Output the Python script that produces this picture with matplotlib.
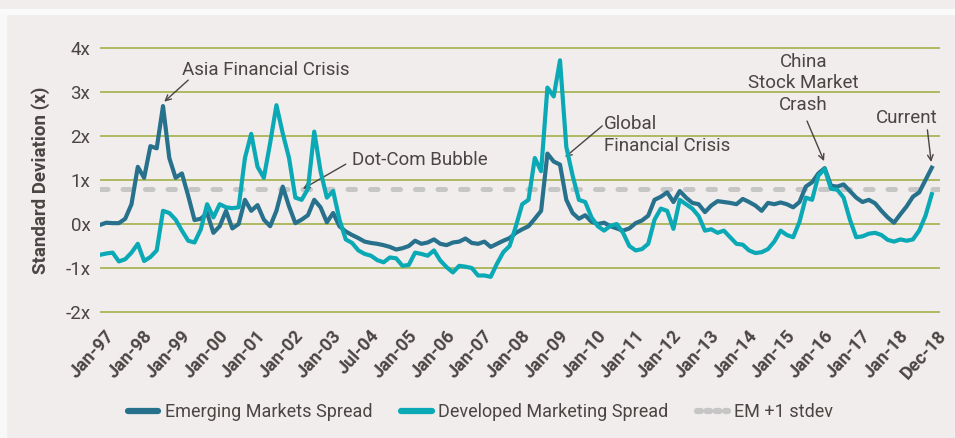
import numpy as np
import matplotlib.pyplot as plt
from matplotlib.lines import Line2D
from matplotlib.transforms import ScaledTranslation

plt.rcParams['font.family'] = ['Roboto', 'DejaVu Sans']

# spreads in standard deviations, one value every 2 months, Jan-97 .. Dec-18
em_spread = [
    -0.02, 0.03, 0.02, 0.02, 0.12, 0.45, 1.3, 1.05, 1.77, 1.72,
    2.68, 1.5, 1.05, 1.15, 0.64, 0.09, 0.12, 0.25, -0.2, -0.05,
    0.3, -0.1, 0.0, 0.55, 0.3, 0.43, 0.1, -0.05, 0.3, 0.85,
    0.4, 0.02, 0.1, 0.2, 0.55, 0.38, 0.04, 0.25, -0.05, -0.17,
    -0.25, -0.32, -0.4, -0.43, -0.45, -0.48, -0.52, -0.58, -0.55, -0.5,
    -0.38, -0.45, -0.42, -0.35, -0.45, -0.48, -0.42, -0.4, -0.33, -0.43,
    -0.45, -0.4, -0.52, -0.45, -0.38, -0.32, -0.2, -0.12, -0.05, 0.12,
    0.3, 1.6, 1.42, 1.35, 0.55, 0.25, 0.12, 0.2, 0.05, 0.0,
    0.03, -0.05, -0.1, -0.15, -0.1, 0.02, 0.08, 0.19, 0.55, 0.62,
    0.72, 0.5, 0.75, 0.6, 0.48, 0.45, 0.27, 0.42, 0.52, 0.5,
    0.48, 0.45, 0.57, 0.5, 0.42, 0.3, 0.48, 0.45, 0.49, 0.45,
    0.38, 0.5, 0.85, 0.95, 1.15, 1.27, 0.87, 0.85, 0.9, 0.75,
    0.6, 0.5, 0.55, 0.47, 0.3, 0.15, 0.03, 0.22, 0.4, 0.62,
    0.72, 1.0, 1.28,
]
dm_spread = [
    -0.7, -0.67, -0.65, -0.85, -0.8, -0.65, -0.45, -0.84, -0.75, -0.6,
    0.3, 0.25, 0.1, -0.15, -0.38, -0.42, -0.12, 0.45, 0.15, 0.45,
    0.38, 0.36, 0.38, 1.5, 2.05, 1.3, 1.05, 1.84, 2.7, 2.06,
    1.5, 0.6, 0.55, 0.8, 2.1, 1.2, 0.6, 0.75, 0.1, -0.35,
    -0.43, -0.6, -0.68, -0.72, -0.82, -0.87, -0.76, -0.78, -0.95, -0.93,
    -0.65, -0.68, -0.72, -0.6, -0.83, -0.98, -1.1, -0.95, -0.97, -1.0,
    -1.17, -1.17, -1.2, -0.9, -0.64, -0.5, -0.05, 0.45, 0.55, 1.5,
    1.2, 3.1, 2.9, 3.72, 1.75, 1.1, 0.55, 0.5, 0.15, -0.05,
    -0.15, -0.04, 0.0, -0.2, -0.5, -0.6, -0.57, -0.45, 0.1, 0.35,
    0.3, -0.11, 0.55, 0.45, 0.35, 0.18, -0.15, -0.12, -0.2, -0.15,
    -0.3, -0.45, -0.47, -0.6, -0.66, -0.64, -0.57, -0.4, -0.15, -0.25,
    -0.3, 0.05, 0.6, 0.55, 1.1, 1.25, 0.8, 0.78, 0.6, 0.1,
    -0.3, -0.28, -0.22, -0.2, -0.25, -0.36, -0.4, -0.35, -0.38, -0.35,
    -0.15, 0.19, 0.68,
]
em_plus_1sd = 0.8

x_labels = ['Jan-97', 'Jan-98', 'Jan-99', 'Jan-00', 'Jan-01', 'Jan-02', 'Jan-03',
            'Jul-04', 'Jan-05', 'Jan-06', 'Jan-07', 'Jan-08', 'Jan-09', 'Jan-10',
            'Jan-11', 'Jan-12', 'Jan-13', 'Jan-14', 'Jan-15', 'Jan-16', 'Jan-17',
            'Jan-18', 'Dec-18']
y_values = [-2, -1, 0, 1, 2, 3, 4]
y_labels = ['-2x', '-1x', '0x', '1x', '2x', '3x', '4x']

TEXT = '#4b4544'
EM_COL = '#27718d'
DM_COL = '#0aa9b5'
SD_COL = '#c6c6c6'
GRID = '#a3b04a'
BG = '#f0edec'

fig = plt.figure(figsize=(9.55, 4.38), dpi=100, facecolor=BG)
fig.patches.append(plt.Rectangle((0, 1 - 14 / 438), 1, 5 / 438, transform=fig.transFigure,
                                 color='#fafafa', zorder=0))
fig.patches.append(plt.Rectangle((0, 0), 6 / 955, 1 - 14 / 438, transform=fig.transFigure,
                                 color='#f8f8f8', zorder=0))

ax = fig.add_axes([0.1047, 0.2826, 0.8796, 0.6128])
ax.set_facecolor(BG)
x = np.arange(len(em_spread))

ax.axhline(em_plus_1sd, color=SD_COL, lw=3.6, dashes=(1.5, 3.0),
           dash_capstyle='round', zorder=2)
ax.plot(x, em_spread, color=EM_COL, lw=3.0, solid_joinstyle='round', zorder=3)
ax.plot(x, dm_spread, color=DM_COL, lw=3.0, solid_joinstyle='round', zorder=4)

ax.set_xlim(0, 133.3)
ax.set_ylim(-2.05, 4.05)
ax.set_yticks(y_values, y_labels)
ax.grid(axis='y', color=GRID, lw=1.2)
ax.set_axisbelow(True)
for s in ax.spines.values():
    s.set_visible(False)
ax.tick_params(length=0, colors=TEXT)
ax.tick_params(axis='y', labelsize=13.5, pad=7)

pos = np.linspace(0, len(em_spread) - 1, len(x_labels))
ax.set_xticks(pos, x_labels, rotation=48, ha='right', rotation_mode='anchor',
              fontsize=13, fontweight='bold')
ax.tick_params(axis='x', pad=9)
for lab in ax.get_xticklabels():
    lab.set_transform(lab.get_transform() + ScaledTranslation(5 / 100, 0, fig.dpi_scale_trans))

ax.set_ylabel('Standard Deviation (x)', fontsize=13.5, fontweight='bold', color=TEXT, labelpad=11)

arrow = dict(arrowstyle='->', color=TEXT, lw=1.0, shrinkA=0, shrinkB=0)
txt = dict(color=TEXT, fontsize=13.5)

ax.text(13.0, 3.5, 'Asia Financial Crisis', ha='left', va='center', **txt)
ax.annotate('', xy=(10.2, 2.78), xytext=(14.0, 3.27), arrowprops=arrow)

ax.text(40.0, 1.45, 'Dot-Com Bubble', ha='left', va='center', **txt)
ax.annotate('', xy=(32.2, 0.8), xytext=(39.0, 1.36), arrowprops=arrow)

ax.text(80.0, 2.02, 'Global\nFinancial Crisis', ha='left', va='center', linespacing=1.25, **txt)
ax.annotate('', xy=(73.8, 1.52), xytext=(79.7, 2.23), arrowprops=arrow)

ax.text(111.6, 3.2, 'China\nStock Market\nCrash', ha='center', va='center', linespacing=1.25, **txt)
ax.annotate('', xy=(114.9, 1.43), xytext=(112.2, 2.34), arrowprops=arrow)

ax.text(128.1, 2.41, 'Current', ha='center', va='center', **txt)
ax.annotate('', xy=(131.9, 1.41), xytext=(131.3, 2.14), arrowprops=arrow)

handles = [
    Line2D([], [], color=EM_COL, lw=4.5, solid_capstyle='round'),
    Line2D([], [], color=DM_COL, lw=4.5, solid_capstyle='round'),
    Line2D([], [], color=SD_COL, lw=4.5, dashes=(0.6, 0.9), dash_capstyle='round'),
]
fig.legend(handles, ['Emerging Markets Spread', 'Developed Marketing Spread', 'EM +1 stdev'],
           loc='center', bbox_to_anchor=(0.503, 0.059), ncol=3, frameon=False,
           fontsize=13, labelcolor=TEXT, handlelength=1.7, handletextpad=0.35,
           columnspacing=1.6)

fig.savefig('out.png', dpi=100, facecolor=BG)
